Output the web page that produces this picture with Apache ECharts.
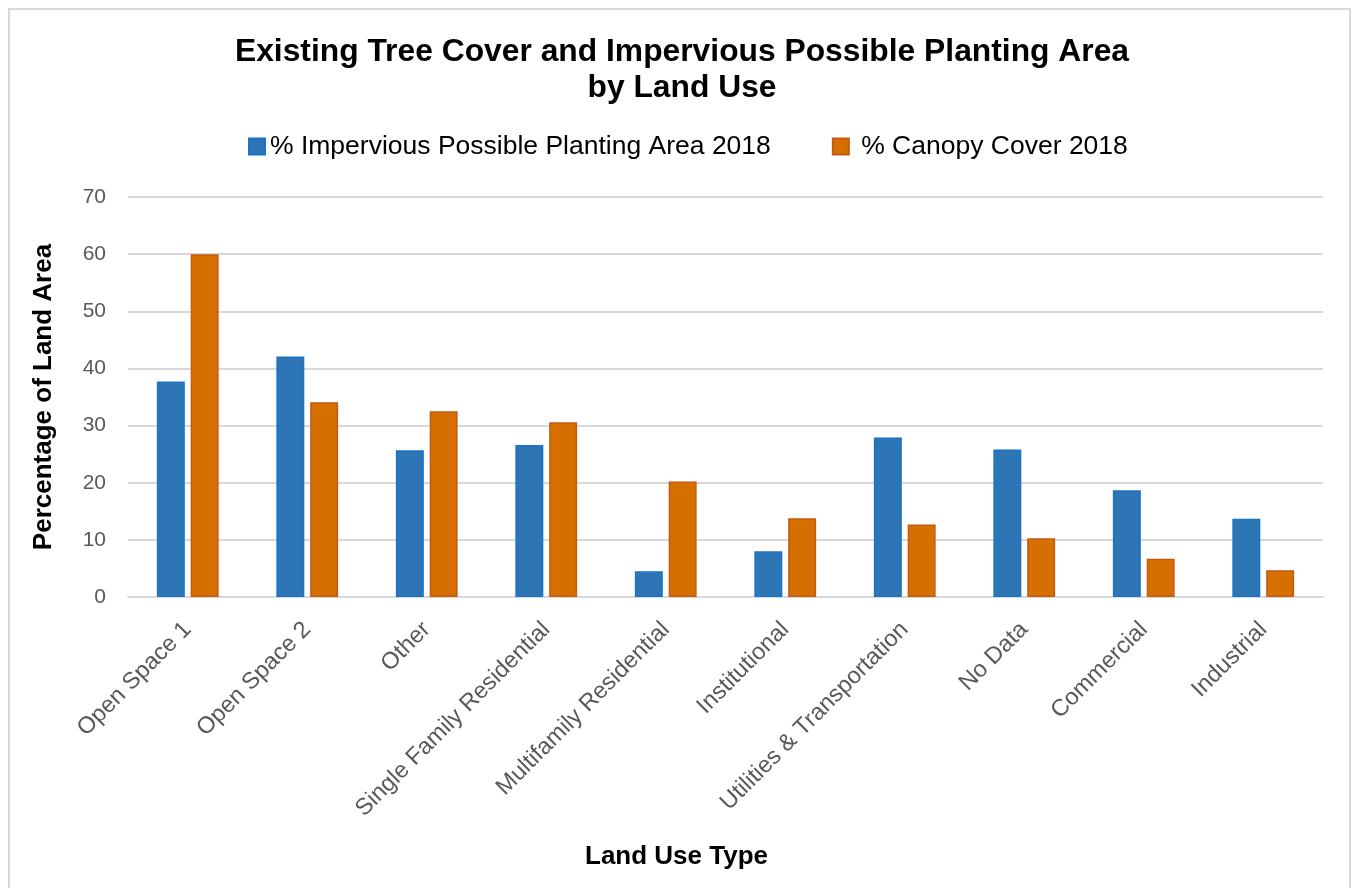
<!DOCTYPE html>
<html><head><meta charset="utf-8">
<script src="https://cdn.jsdelivr.net/npm/echarts@6/dist/echarts.min.js"></script>
<style>
html,body{margin:0;padding:0;background:#fff;}
#frame{position:absolute;left:8px;top:8px;width:1343px;height:900px;border:2px solid #d9d9d9;box-sizing:border-box;}
#chart{position:absolute;left:0;top:0;width:1355px;height:888px;}
</style></head>
<body>
<div id="frame"></div>
<div id="chart"></div>
<script>
const categories = ['Open Space 1','Open Space 2','Other','Single Family Residential','Multifamily Residential','Institutional','Utilities & Transportation','No Data','Commercial','Industrial'];
const impervious = [37.7, 42.1, 25.7, 26.6, 4.5, 8.0, 27.9, 25.8, 18.7, 13.7];
const canopy = [60.0, 34.1, 32.5, 30.6, 20.2, 13.8, 12.7, 10.3, 6.7, 4.7];
const seriesNames = ['% Impervious Possible Planting Area 2018', ' % Canopy Cover 2018'];
const yTicks = {min: 0, max: 70, interval: 10};

const chart = echarts.init(document.getElementById('chart'));
const font = 'Arial, "Liberation Sans", sans-serif';
chart.setOption({
  backgroundColor: 'transparent',
  animation: false,
  title: {
    text: 'Existing Tree Cover and Impervious Possible Planting Area\nby Land Use',
    left: 677, top: 29, textAlign: 'center',
    textStyle: {fontFamily: font, fontSize: 31.8, fontWeight: 'bold', color: '#000', lineHeight: 36}
  },
  legend: {
    top: 128, left: 243,
    itemWidth: 16, itemHeight: 16, itemGap: 61,
    icon: 'rect',
    textStyle: {fontFamily: font, fontSize: 26.5, color: '#000'},
    data: seriesNames
  },
  grid: {left: 128, right: 32, top: 197, bottom: 291},
  xAxis: {
    type: 'category', data: categories,
    name: 'Land Use Type', nameLocation: 'middle', nameGap: 247,
    nameTextStyle: {fontFamily: font, fontSize: 26, fontWeight: 'bold', color: '#000', padding: [0, 98, 0, 0]},
    axisLine: {lineStyle: {color: '#d9d9d9', width: 2}},
    axisTick: {show: false},
    axisLabel: {rotate: 45, fontFamily: font, fontSize: 23.5, color: '#595959', margin: 29, interval: 0}
  },
  yAxis: {
    type: 'value', min: yTicks.min, max: yTicks.max, interval: yTicks.interval,
    name: 'Percentage of Land Area', nameLocation: 'middle', nameGap: 71,
    nameTextStyle: {fontFamily: font, fontSize: 26, fontWeight: 'bold', color: '#000'},
    axisLine: {show: false}, axisTick: {show: false},
    axisLabel: {fontFamily: font, fontSize: 21, color: '#595959', margin: 22},
    splitLine: {lineStyle: {color: '#d9d9d9', width: 2}}
  },
  series: [
    {name: seriesNames[0], type: 'bar', data: impervious, barWidth: '23.4%', barGap: '21%',
     itemStyle: {color: '#2E75B6', borderColor: '#1a74c4', borderWidth: 1.5}},
    {name: seriesNames[1], type: 'bar', data: canopy, barWidth: '23.4%',
     itemStyle: {color: '#D46F00', borderColor: '#C55A11', borderWidth: 1.5}}
  ]
});
</script>
</body></html>
